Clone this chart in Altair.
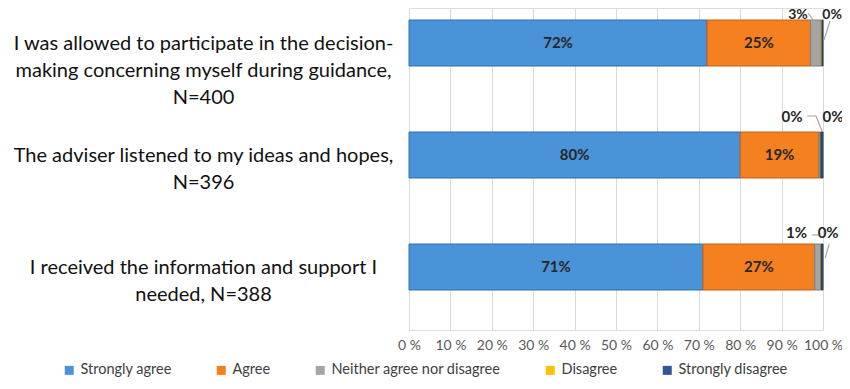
import altair as alt
import pandas as pd

# ---------------- data ----------------
questions = [
    "I was allowed to participate in the decision-|making concerning myself during guidance,|N=400",
    "The adviser listened to my ideas and hopes,|N=396",
    "I received the information and support I|needed, N=388",
]
categories = ["Strongly agree", "Agree", "Neither agree nor disagree", "Disagree", "Strongly disagree"]
strongly_agree = [72, 80, 71]
agree = [25, 19, 27]
neither = [2.6, 0.3, 1.4]
disagree = [0.2, 0.2, 0.2]
strongly_disagree = [0.2, 0.5, 0.4]

# ---------------- style ----------------
fill_colors = ["#4a93d8", "#f4801f", "#a5a5a5", "#ffc000", "#2f5597"]
edge_colors = ["#2f6fae", "#c2611a", "#7f7f7f", "#bf9000", "#1f3a68"]
FONT = "Lato"
PLOT_W, PLOT_H = 414, 322
STEP_PX = 112           # pixels between question rows
BAR_PX = 46             # bar thickness in pixels
Y_TOP = 2 + 35 / STEP_PX
Y_BOTTOM = Y_TOP - PLOT_H / STEP_PX
HALF = BAR_PX / STEP_PX / 2
PX_X = 100 / PLOT_W     # data units per pixel along x

# outside labels: (question index, category) -> (dx, dy) px from (segment middle, bar top)
# top row labels sit on their baseline, the others are vertically centred
outside_label_offsets = {
    (0, "Neither agree nor disagree"): (-18, -1.5),
    (0, "Strongly disagree"): (9.5, -1.5),
    (1, "Neither agree nor disagree"): (-27.5, -15),
    (1, "Strongly disagree"): (11, -15),
    (2, "Neither agree nor disagree"): (-21, -11),
    (2, "Strongly disagree"): (6, -11),
}
# leader lines: (question index, category, [(dx, dy), ...]) px from (segment middle, bar top)
leader_lines = [
    (0, "Neither agree nor disagree", [(-8, -7), (-2, 1)]),
    (0, "Strongly disagree", [(7.4, 1), (1.4, 20)]),
    (1, "Neither agree nor disagree", [(-12.5, -16), (-3.5, -16), (2.5, -1)]),
    (2, "Strongly disagree", [(-10, -9), (-4, -9)]),
    (2, "Strongly disagree", [(7, 0), (3, 14)]),
]

# ---------------- tables ----------------
series = [strongly_agree, agree, neither, disagree, strongly_disagree]
rows = []
for qi in range(len(questions)):
    cum = 0.0
    for ci, cat in enumerate(categories):
        v = series[ci][qi]
        rows.append({
            "qi": qi,
            "row": len(questions) - 1 - qi,
            "category": cat,
            "start": cum,
            "end": cum + v,
            "mid": cum + v / 2,
            "label": f"{round(v)}%",
        })
        cum += v
df = pd.DataFrame(rows)
df["y_top"] = df["row"] + HALF
df["y_bot"] = df["row"] - HALF

seg = {(r.qi, r.category): r for r in df.itertuples()}

inside = df[df["category"].isin(["Strongly agree", "Agree"])]

out_rows = []
for (qi, cat), (dx, dy) in outside_label_offsets.items():
    r = seg[(qi, cat)]
    out_rows.append({"qi": qi, "x": r.mid + dx * PX_X, "y": r.y_top - dy / STEP_PX, "label": r.label})
outside = pd.DataFrame(out_rows)

lead_rows = []
for li, (qi, cat, pts) in enumerate(leader_lines):
    r = seg[(qi, cat)]
    for k, (dx, dy) in enumerate(pts):
        lead_rows.append({"id": li, "k": k, "x": r.mid + dx * PX_X, "y": r.y_top - dy / STEP_PX})
leaders = pd.DataFrame(lead_rows)

# y-axis labels
by_value = list(reversed(questions))
arr = "[" + ",".join("'" + q + "'" for q in by_value) + "]"
label_expr = f"split({arr}[datum.value], '|')"

x_scale = alt.Scale(domain=[0, 100], nice=False, zero=False)
y_scale = alt.Scale(domain=[Y_BOTTOM, Y_TOP], nice=False, zero=False)

x_axis = alt.Axis(
    values=list(range(0, 101, 10)), labelExpr="datum.value + ' %'", title=None,
    grid=True, gridColor="#d9d9d9", gridWidth=1, domain=False, ticks=False,
    labelFontSize=14, labelColor="#595959", labelPadding=8, labelFont=FONT,
    labelOverlap=False, labelFlush=False,
)
y_axis = alt.Axis(
    values=[0, 1, 2], labelExpr=label_expr, title=None, grid=False, domain=False,
    ticks=False, labelAlign="center", labelBaseline="middle", labelPadding=206,
    labelLimit=500, labelFontSize=20, labelLineHeight=27, labelColor="#111111",
    labelFont=FONT,
)

bars = alt.Chart(df).mark_bar(strokeWidth=1).encode(
    x=alt.X("start:Q", scale=x_scale, axis=x_axis),
    x2="end:Q",
    y=alt.Y("y_top:Q", scale=y_scale, axis=y_axis),
    y2="y_bot:Q",
    color=alt.Color(
        "category:N",
        scale=alt.Scale(domain=categories, range=fill_colors),
        sort=categories,
        legend=alt.Legend(
            title=None, orient="none", direction="horizontal", legendX=-347, legendY=355,
            symbolType="square", symbolSize=81, symbolStrokeWidth=0, labelFontSize=14.5,
            labelColor="#404040", labelFont=FONT, columnPadding=42, labelOffset=4,
            labelLimit=400,
        ),
    ),
    stroke=alt.Stroke(
        "category:N", scale=alt.Scale(domain=categories, range=edge_colors), legend=None
    ),
)

inside_text = alt.Chart(inside).mark_text(
    font=FONT, fontSize=15, fontWeight="bold", color="#262626", align="center", baseline="middle"
).encode(
    x=alt.X("mid:Q", scale=x_scale),
    y=alt.Y("row:Q", scale=y_scale),
    text="label:N",
)

leader_marks = alt.Chart(leaders).mark_line(color="#a6a6a6", strokeWidth=1.2).encode(
    x=alt.X("x:Q", scale=x_scale),
    y=alt.Y("y:Q", scale=y_scale),
    detail="id:N",
    order="k:Q",
)

outside_top = alt.Chart(outside[outside["qi"] == 0]).mark_text(
    font=FONT, fontSize=14, fontWeight="bold", color="#262626", align="center",
    baseline="alphabetic",
).encode(
    x=alt.X("x:Q", scale=x_scale),
    y=alt.Y("y:Q", scale=y_scale),
    text="label:N",
)

outside_rest = alt.Chart(outside[outside["qi"] != 0]).mark_text(
    font=FONT, fontSize=15, fontWeight="bold", color="#262626", align="center", baseline="middle"
).encode(
    x=alt.X("x:Q", scale=x_scale),
    y=alt.Y("y:Q", scale=y_scale),
    text="label:N",
)

chart = alt.layer(bars, inside_text, leader_marks, outside_top, outside_rest).properties(
    width=PLOT_W,
    height=PLOT_H,
    autosize=alt.AutoSizeParams(type="none"),
    padding={"left": 401, "top": 0, "right": 19, "bottom": 51},
    background="white",
).configure_view(stroke=None).configure(font=FONT)

chart.save("out.html", embed_options={"renderer": "svg", "actions": False})
